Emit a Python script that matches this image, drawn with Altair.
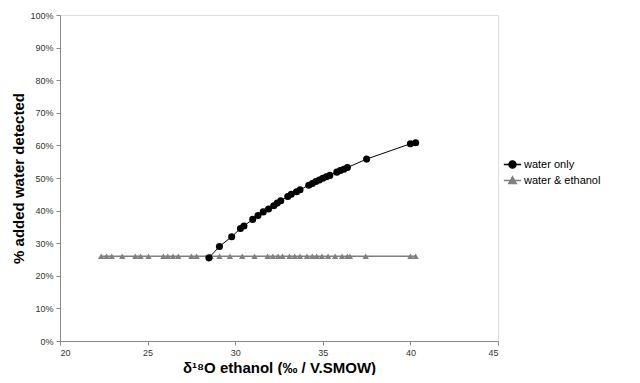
import altair as alt
import pandas as pd

# water only series
water_x = [28.5, 29.1, 29.8, 30.3, 30.5, 31.0, 31.3, 31.6, 31.9, 32.2, 32.4, 32.6, 33.0, 33.2, 33.5,
           33.7, 34.2, 34.4, 34.6, 34.8, 35.0, 35.2, 35.4, 35.8, 36.0, 36.2, 36.4, 37.5, 40.0, 40.3]
water_y = [25.5, 29.0, 32.0, 34.5, 35.3, 37.3, 38.5, 39.6, 40.5, 41.5, 42.3, 43.0, 44.3, 45.0, 45.8,
           46.4, 47.8, 48.3, 48.9, 49.4, 49.9, 50.4, 50.8, 51.8, 52.3, 52.7, 53.2, 55.8, 60.5, 60.8]

# water & ethanol series
eth_x = [22.35, 22.65, 22.95, 23.55, 24.3, 24.6, 25.05, 25.9, 26.15, 26.45, 26.75, 27.5, 27.8,
         28.6, 29.1, 29.7, 30.4, 31.1, 31.85, 32.15, 32.45, 32.7, 33.1, 33.4, 33.7, 34.1, 34.4,
         34.65, 34.95, 35.3, 35.7, 36.1, 36.4, 36.55, 37.45, 40.0, 40.3]
eth_y = [26.0] * len(eth_x)

series_names = ["water only", "water & ethanol"]
series_colors = ["#000000", "#808080"]
x_ticks = [20, 25, 30, 35, 40, 45]
y_ticks = [0, 0.1, 0.2, 0.3, 0.4, 0.5, 0.6, 0.7, 0.8, 0.9, 1.0]

df_w = pd.DataFrame({"x": water_x, "y": [v / 100 for v in water_y], "series": series_names[0]})
df_e = pd.DataFrame({"x": eth_x, "y": [v / 100 for v in eth_y], "series": series_names[1]})

FONT = "Liberation Sans"

xenc = alt.X("x:Q", scale=alt.Scale(domain=[20, 45], nice=False),
             axis=alt.Axis(values=x_ticks, title="δ¹⁸O ethanol (‰ / V.SMOW)", grid=False,
                           titleFontSize=15, titleFontWeight="bold", titleFont=FONT,
                           titleColor="#000", titleY=31, titleBaseline="alphabetic",
                           labelFont=FONT, labelFontSize=9, labelColor="#333",
                           domainColor="#888", tickColor="#888", tickSize=4, labelPadding=3))
yenc = alt.Y("y:Q", scale=alt.Scale(domain=[0, 1], nice=False),
             axis=alt.Axis(values=y_ticks, format=".0%", title="% added water detected", grid=False,
                           titleFontSize=15, titleFontWeight="bold", titleFont=FONT,
                           titleColor="#000", titlePadding=3,
                           labelFont=FONT, labelFontSize=9, labelColor="#333",
                           domainColor="#888", tickColor="#888", tickSize=4, labelPadding=3))

circle_path = "M-1,0L1,0M0.42,0A0.42,0.42,0,1,1,-0.42,0A0.42,0.42,0,1,1,0.42,0Z"
tri_path = "M-1,0L1,0M0,-0.45L0.45,0.35L-0.45,0.35Z"


def make_layers(df, name, color, shape, path, ly, lw, psize):
    cenc_line = alt.Color("series:N", scale=alt.Scale(domain=[name], range=[color]), legend=None)
    cenc_pt = alt.Color("series:N", scale=alt.Scale(domain=[name], range=[color]),
                        legend=alt.Legend(orient="none", legendX=443, legendY=ly, title=None,
                                          symbolType=path, symbolSize=300,
                                          symbolStrokeColor=color, symbolFillColor=color,
                                          symbolStrokeWidth=1.3,
                                          labelFont=FONT, labelFontSize=11, labelColor="#000",
                                          labelOffset=2))
    line = alt.Chart(df).mark_line(strokeWidth=lw).encode(x=xenc, y=yenc, color=cenc_line)
    pts = alt.Chart(df).mark_point(filled=True, shape=shape, size=psize, opacity=1).encode(
        x=xenc, y=yenc, color=cenc_pt)
    return line, pts


l_w, p_w = make_layers(df_w, series_names[0], series_colors[0], "circle", circle_path, 140, 1, 50)
l_e, p_e = make_layers(df_e, series_names[1], series_colors[1], "triangle-up", tri_path, 156, 1.5, 40)

chart = alt.layer(l_e, p_e, l_w, p_w).resolve_scale(color="independent").properties(
    width=438, height=326,
    autosize=alt.AutoSizeParams(type="none"),
    padding={"left": 52, "top": 7, "right": 134, "bottom": 34},
).configure_view(stroke="#888", strokeWidth=1).configure(background="white")

chart.save("out.html", embed_options={"renderer": "svg", "actions": False})
